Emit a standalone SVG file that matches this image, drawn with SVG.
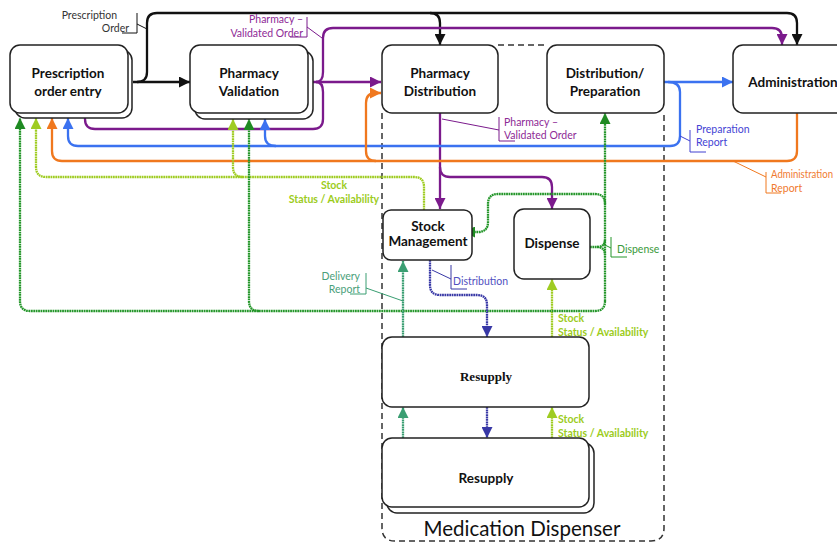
<svg xmlns="http://www.w3.org/2000/svg" width="837" height="544" viewBox="0 0 837 544">
  <style>
    .box { fill: #fff; stroke: #222; stroke-width: 1.5; }
    .node { font-family: Lato, "Liberation Sans", sans-serif; font-weight: bold; font-size: 13.5px; fill: #111; text-anchor: middle; }
    .serif { font-family: "Liberation Serif", serif; font-weight: bold; font-size: 13px; fill: #111; text-anchor: middle; }
    .lbl { font-family: Lato, "Liberation Sans", sans-serif; font-size: 10.5px; }
    .bold { font-weight: bold; }
    .ln { fill: none; stroke-width: 2.3; stroke-linejoin: round; }
    .dot { stroke-dasharray: 1.8 0.6; }
    .lead { fill: none; stroke-width: 1; }
    .k { stroke: #111; } .p { stroke: #7b1a8c; } .b { stroke: #3b72f0; } .o { stroke: #f0781e; }
    .y { stroke: #9fcc22; } .g { stroke: #24962a; } .t { stroke: #3a9e72; } .n { stroke: #3838a6; }
    .container { fill: none; stroke: #333; stroke-width: 1.5; stroke-dasharray: 6 4; }
  </style>
  <defs>
    <marker id="ak" viewBox="0 0 10 10" refX="10" refY="5" markerWidth="11" markerHeight="11" markerUnits="userSpaceOnUse" orient="auto"><path d="M0,0 L10,5 L0,10 z" fill="#111"/></marker>
    <marker id="ap" viewBox="0 0 10 10" refX="10" refY="5" markerWidth="11" markerHeight="11" markerUnits="userSpaceOnUse" orient="auto"><path d="M0,0 L10,5 L0,10 z" fill="#7b1a8c"/></marker>
    <marker id="ab" viewBox="0 0 10 10" refX="10" refY="5" markerWidth="11" markerHeight="11" markerUnits="userSpaceOnUse" orient="auto"><path d="M0,0 L10,5 L0,10 z" fill="#3b72f0"/></marker>
    <marker id="ao" viewBox="0 0 10 10" refX="10" refY="5" markerWidth="11" markerHeight="11" markerUnits="userSpaceOnUse" orient="auto"><path d="M0,0 L10,5 L0,10 z" fill="#f0781e"/></marker>
    <marker id="ay" viewBox="0 0 10 10" refX="10" refY="5" markerWidth="11" markerHeight="11" markerUnits="userSpaceOnUse" orient="auto"><path d="M0,0 L10,5 L0,10 z" fill="#9fcc22"/></marker>
    <marker id="ag" viewBox="0 0 10 10" refX="10" refY="5" markerWidth="11" markerHeight="11" markerUnits="userSpaceOnUse" orient="auto"><path d="M0,0 L10,5 L0,10 z" fill="#1f8a22"/></marker>
    <marker id="at" viewBox="0 0 10 10" refX="10" refY="5" markerWidth="11" markerHeight="11" markerUnits="userSpaceOnUse" orient="auto"><path d="M0,0 L10,5 L0,10 z" fill="#3a9e72"/></marker>
    <marker id="an" viewBox="0 0 10 10" refX="10" refY="5" markerWidth="11" markerHeight="11" markerUnits="userSpaceOnUse" orient="auto"><path d="M0,0 L10,5 L0,10 z" fill="#3838a6"/></marker>
  </defs>

  <!-- Medication Dispenser boundary -->
  <g id="medication-dispenser">
    <path class="container" d="M498,45 L547,45"/>
    <path class="container" d="M382,113 L382,528 Q382,541 395,541 L651,541 Q664,541 664,528 L664,113"/>
    <text x="522" y="536" font-family="Lato, 'Liberation Sans', sans-serif" font-size="20.5" fill="#111" text-anchor="middle">Medication Dispenser</text>
  </g>

  <!-- Connectors -->
  <g id="connectors">
    <!-- Prescription Order (black) -->
    <path class="ln k" d="M133,82 L190,82" marker-end="url(#ak)"/>
    <path class="ln k" d="M137,82 Q147,82 147,72 L147,23 Q147,13 157,13 L430,13 Q440,13 440,23 L440,45" marker-end="url(#ak)"/>
    <path class="ln k" d="M430,13 L787,13 Q797,13 797,23 L797,45" marker-end="url(#ak)"/>

    <!-- Pharmacy - Validated Order (purple) -->
    <path class="ln p" d="M313,82 L381,82" marker-end="url(#ap)"/>
    <path class="ln p" d="M316,82 Q323,82 323,72 L323,38 Q323,28 333,28 L772,28 Q782,28 782,38 L782,45" marker-end="url(#ap)"/>
    <path class="ln p" d="M316,82 Q323,82 323,92 L323,119 Q323,129 313,129 L95,129 Q85,129 85,119 L84,104" marker-end="url(#ap)"/>
    <path class="ln p" d="M440,113 L440,209" marker-end="url(#ap)"/>
    <path class="ln p" d="M440,167 Q440,177 450,177 L542,177 Q552,177 552,187 L552,209" marker-end="url(#ap)"/>

    <!-- Preparation Report (blue) -->
    <path class="ln b" d="M664,82 L733,82" marker-end="url(#ab)"/>
    <path class="ln b" d="M668,82 Q680,82 680,92 L680,136 Q680,146 670,146 L78,146 Q68,146 68,136 L68,118" marker-end="url(#ab)"/>
    <path class="ln b" d="M276,146 Q265,146 265,136 L265,119" marker-end="url(#ab)"/>

    <!-- Administration Report (orange) -->
    <path class="ln o" d="M797,113 L797,151 Q797,161 787,161 L62,161 Q52,161 52,151 L52,118" marker-end="url(#ao)"/>
    <path class="ln o" d="M376,161 Q366,161 366,151 L366,103 Q366,93 376,93 L381,93" marker-end="url(#ao)"/>

    <!-- Stock Status / Availability (light green) -->
    <path class="ln y dot" d="M424,210 L424,187 Q424,177 414,177 L46,177 Q36,177 36,167 L36,118" marker-end="url(#ay)"/>
    <path class="ln y dot" d="M243,177 Q233,177 233,167 L233,119" marker-end="url(#ay)"/>
    <path class="ln y dot" d="M552,337 L552,279" marker-end="url(#ay)"/>
    <path class="ln y dot" d="M552,438 L552,407" marker-end="url(#ay)"/>

    <!-- Dispense (green) -->
    <path class="ln g dot" d="M605,301 L605,113" marker-end="url(#ag)"/>
    <path class="ln g dot" d="M590,247 L597,247 Q605,247 605,239 M597,247 Q605,247 605,255"/>
    <path class="ln g dot" d="M605,204 Q605,194 595,194 L498,194 Q488,194 488,204 L488,222 Q488,232 478,232 L464,232" marker-end="url(#ag)"/>
    <path class="ln g dot" d="M605,301 Q605,311 595,311 L30,311 Q20,311 20,301 L20,118" marker-end="url(#ag)"/>
    <path class="ln g dot" d="M259,311 Q249,311 249,301 L249,119" marker-end="url(#ag)"/>

    <!-- Delivery Report (teal) -->
    <path class="ln t dot" d="M403,337 L403,261" marker-end="url(#at)"/>
    <path class="ln t dot" d="M403,438 L403,407" marker-end="url(#at)"/>

    <!-- Distribution (navy) -->
    <path class="ln n dot" d="M430,260 L430,285 Q430,295 440,295 L477,295 Q487,295 487,305 L487,337" marker-end="url(#an)"/>
    <path class="ln n dot" d="M487,407 L487,438" marker-end="url(#an)"/>

    <!-- Connector labels with callout brackets -->
    <g id="label-prescription-order">
      <path class="lead k" stroke-width="1" d="M122,33 L137,33 L137,13 M137,24 L147,29"/>
      <text class="lbl" x="117" y="19" fill="#333" text-anchor="end">Prescription</text>
      <text class="lbl" x="129" y="32" fill="#333" text-anchor="end">Order</text>
    </g>
    <g id="label-validated-order-top">
      <path class="lead p" d="M290,37 L307,37 L307,17 M307,27 L322,38"/>
      <text class="lbl" x="303" y="23" fill="#8e2a96" text-anchor="end">Pharmacy –</text>
      <text class="lbl" x="303" y="37" fill="#8e2a96" text-anchor="end">Validated Order</text>
    </g>
    <g id="label-validated-order-mid">
      <path class="lead p" d="M499,117 L499,141 L515,141 M499,130 L442,119"/>
      <text class="lbl" x="504" y="126" fill="#8e2a96">Pharmacy –</text>
      <text class="lbl" x="504" y="139" fill="#8e2a96">Validated Order</text>
    </g>
    <g id="label-preparation-report">
      <path class="lead" stroke="#4040d0" d="M690,130 L690,152 L706,152 M690,141 L680,136"/>
      <text class="lbl" x="696" y="133" fill="#4444d4">Preparation</text>
      <text class="lbl" x="696" y="146" fill="#4444d4">Report</text>
    </g>
    <g id="label-administration-report">
      <path class="lead o" d="M766,172 L766,193 L781,193 M766,177 L733,161"/>
      <text class="lbl" x="771" y="178" font-size="10" textLength="62" lengthAdjust="spacingAndGlyphs" fill="#f07a30">Administration</text>
      <text class="lbl" x="771" y="192" font-size="10" fill="#f07a30">Report</text>
    </g>
    <g id="label-stock-status-top">
      <text class="lbl bold" x="334" y="189" fill="#9ccc1c" text-anchor="middle">Stock</text>
      <text class="lbl bold" x="334" y="203" fill="#9ccc1c" text-anchor="middle">Status / Availability</text>
    </g>
    <g id="label-stock-status-dispense">
      <text class="lbl bold" x="558" y="322" fill="#9ccc1c">Stock</text>
      <text class="lbl bold" x="558" y="336" fill="#9ccc1c">Status / Availability</text>
    </g>
    <g id="label-stock-status-resupply">
      <text class="lbl bold" x="558" y="423" fill="#9ccc1c">Stock</text>
      <text class="lbl bold" x="558" y="437" fill="#9ccc1c">Status / Availability</text>
    </g>
    <g id="label-dispense">
      <path class="lead g" d="M611,237 L611,257 L627,257 M603,244 L611,248"/>
      <text class="lbl" x="617" y="253" fill="#3a9a3a">Dispense</text>
    </g>
    <g id="label-delivery-report">
      <path class="lead t" d="M366,273 L366,294 L350,294 M366,288 L403,301"/>
      <text class="lbl" x="360" y="280" fill="#4aa07a" text-anchor="end">Delivery</text>
      <text class="lbl" x="360" y="293" fill="#4aa07a" text-anchor="end">Report</text>
    </g>
    <g id="label-distribution">
      <path class="lead n" d="M451,265 L451,289 L467,289 M451,279 L432,270"/>
      <text class="lbl" x="453" y="285" fill="#5050c0">Distribution</text>
    </g>
  </g>

  <!-- Nodes -->
  <g id="prescription-order-entry">
    <rect class="box" x="15" y="50" width="117" height="68" rx="10"/>
    <rect class="box" x="10" y="45" width="118" height="68" rx="10"/>
    <text class="node" x="68" y="78">Prescription</text>
    <text class="node" x="68" y="96">order entry</text>
  </g>
  <g id="pharmacy-validation">
    <rect class="box" x="195" y="51" width="118" height="68" rx="10"/>
    <rect class="box" x="190" y="45" width="118" height="68" rx="10"/>
    <text class="node" x="249" y="78">Pharmacy</text>
    <text class="node" x="249" y="96">Validation</text>
  </g>
  <g id="pharmacy-distribution">
    <rect class="box" x="382" y="45" width="116" height="68" rx="10"/>
    <text class="node" x="440" y="78">Pharmacy</text>
    <text class="node" x="440" y="96">Distribution</text>
  </g>
  <g id="distribution-preparation">
    <rect class="box" x="547" y="45" width="117" height="68" rx="10"/>
    <text class="node" x="605" y="78">Distribution/</text>
    <text class="node" x="605" y="96">Preparation</text>
  </g>
  <g id="administration">
    <rect class="box" x="733" y="45" width="120" height="68" rx="10"/>
    <text class="node" x="793" y="87">Administration</text>
  </g>
  <g id="stock-management">
    <rect class="box" x="383" y="210" width="89" height="50" rx="8"/>
    <text class="node" x="428" y="231" font-size="12.5">Stock</text>
    <text class="node" x="428" y="246" font-size="12.5">Management</text>
  </g>
  <g id="dispense">
    <rect class="box" x="514" y="209" width="76" height="70" rx="10"/>
    <text class="node" x="552" y="248" font-size="12.5">Dispense</text>
  </g>
  <g id="resupply-upper">
    <rect class="box" x="382" y="337" width="207" height="70" rx="10"/>
    <text class="serif" x="486" y="381">Resupply</text>
  </g>
  <g id="resupply-lower">
    <rect class="box" x="387" y="443" width="207" height="70" rx="10"/>
    <rect class="box" x="382" y="438" width="207" height="69" rx="10"/>
    <text class="node" x="486" y="483">Resupply</text>
  </g>
</svg>
